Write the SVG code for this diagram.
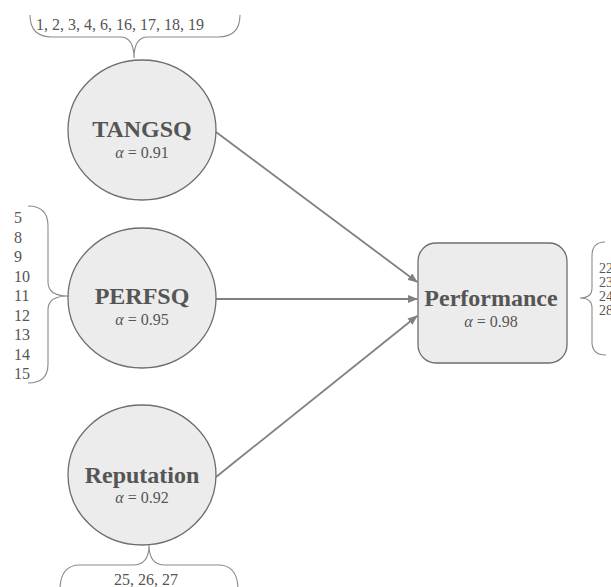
<svg xmlns="http://www.w3.org/2000/svg" width="611" height="587" viewBox="0 0 611 587">
<defs>
<style>
.node{fill:#ececec;stroke:#6e6e6e;stroke-width:1.3}
.name{font-family:"Liberation Serif",serif;font-weight:bold;font-size:24px;fill:#555;text-anchor:middle}
.alpha{font-family:"Liberation Serif",serif;font-size:16px;fill:#555;text-anchor:middle}
.alpha .a{font-style:italic}
.items{font-family:"Liberation Serif",serif;font-size:16px;fill:#555}
.ritems{font-family:"Liberation Serif",serif;font-size:14px;fill:#555}
.brace{fill:none;stroke:#8a8a8a;stroke-width:1.1}
.conn{stroke:#808080;stroke-width:1.8;fill:none;marker-end:url(#arrow)}
</style>
<marker id="arrow" markerUnits="userSpaceOnUse" markerWidth="10" markerHeight="8" refX="9" refY="4" orient="auto">
<path d="M0,0 L10,4 L0,8 Z" fill="#808080"/>
</marker>
</defs>
<rect width="611" height="587" fill="#fff"/>
<g id="connectors">
<line class="conn" x1="216" y1="132" x2="417" y2="282"/>
<line class="conn" x1="216" y1="299" x2="417" y2="299"/>
<line class="conn" x1="216" y1="477" x2="417" y2="316"/>
</g>
<g id="tangsq-items">
<path class="brace" d="M30,15 Q30,37 52,37 L120,37 Q134,37 134,58 Q134,37 148,37 L218,37 Q240,37 240,15"/>
<text class="items" x="36" y="30">1, 2, 3, 4, 6, 16, 17, 18, 19</text>
</g>
<g id="tangsq">
<ellipse class="node" cx="142" cy="130" rx="74" ry="70"/>
<text class="name" x="142" y="137">TANGSQ</text>
<text class="alpha" x="142" y="158"><tspan class="a">α</tspan> = 0.91</text>
</g>
<g id="perfsq-items">
<path class="brace" d="M28,206 Q48,206 48,226 L48,282 Q48,296 68,296 Q48,296 48,310 L48,364 Q48,383 28,383"/>
<text class="items" x="14" y="223">5</text>
<text class="items" x="14" y="242.5">8</text>
<text class="items" x="14" y="262">9</text>
<text class="items" x="14" y="281.5">10</text>
<text class="items" x="14" y="301">11</text>
<text class="items" x="14" y="320.5">12</text>
<text class="items" x="14" y="340">13</text>
<text class="items" x="14" y="359.5">14</text>
<text class="items" x="14" y="379">15</text>
</g>
<g id="perfsq">
<ellipse class="node" cx="142" cy="298" rx="74" ry="70"/>
<text class="name" x="142" y="304">PERFSQ</text>
<text class="alpha" x="142" y="325"><tspan class="a">α</tspan> = 0.95</text>
</g>
<g id="reputation">
<ellipse class="node" cx="142" cy="475" rx="74" ry="70"/>
<text class="name" x="142" y="483">Reputation</text>
<text class="alpha" x="142" y="503"><tspan class="a">α</tspan> = 0.92</text>
</g>
<g id="reputation-items">
<path class="brace" d="M60,590 Q60,565 80,565 L133,565 Q149,565 149,545 Q149,565 165,565 L218,565 Q238,565 238,590"/>
<text class="items" x="146" y="585" text-anchor="middle">25, 26, 27</text>
</g>
<g id="performance">
<rect class="node" x="418" y="243" width="149" height="120" rx="18"/>
<text class="name" x="491" y="306">Performance</text>
<text class="alpha" x="491" y="327"><tspan class="a">α</tspan> = 0.98</text>
</g>
<g id="performance-items">
<path class="brace" d="M605,242 Q592,242 592,256 L592,288 Q592,298 580,298 Q592,298 592,308 L592,342 Q592,355 606,355"/>
<text class="ritems" x="599" y="273">22</text>
<text class="ritems" x="599" y="287">23</text>
<text class="ritems" x="599" y="301">24</text>
<text class="ritems" x="599" y="315">28</text>
</g>
</svg>
